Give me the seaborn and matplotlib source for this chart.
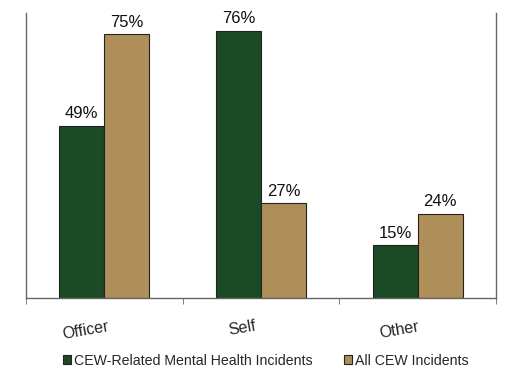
import pandas as pd
import matplotlib.pyplot as plt
import matplotlib.transforms as mtransforms
import seaborn as sns

# Data
categories = ['Officer', 'Self', 'Other']
mental_health = [49, 76, 15]
all_cew = [75, 27, 24]
series_names = ['CEW-Related Mental Health Incidents', 'All CEW Incidents']

df = pd.DataFrame({
    'Category': categories * 2,
    'Percent': mental_health + all_cew,
    'Series': [series_names[0]] * 3 + [series_names[1]] * 3,
})

sns.set_style('white')
plt.rcParams['font.family'] = ['Liberation Sans', 'DejaVu Sans']

fig = plt.figure(figsize=(5.24, 3.77), dpi=100)
ax = fig.add_axes([26 / 524, 1 - 298 / 377, 470 / 524, 285 / 377])

sns.barplot(data=df, x='Category', y='Percent', hue='Series', order=categories,
            hue_order=series_names, palette=['#1c4a24', '#ae8f5a'], saturation=1,
            width=0.575, edgecolor='#222222', linewidth=0.8, ax=ax)

for cont in ax.containers:
    ax.bar_label(cont, labels=[f'{v:.0f}%' for v in cont.datavalues],
                 padding=3, fontsize=12, color='#111111')

ax.set_xlim(-0.5, 2.5)
ax.set_ylim(0, 81)
ax.set_yticks([])
ax.set_xlabel('')
ax.set_ylabel('')

ax.spines['top'].set_visible(False)
for side in ['left', 'right', 'bottom']:
    ax.spines[side].set_color('#666666')
    ax.spines[side].set_linewidth(1.0)

ax.set_xticks([-0.5, 0.5, 1.5, 2.5], minor=True)
ax.tick_params(axis='x', which='minor', length=4, direction='out', color='#666666', bottom=True)
ax.tick_params(axis='x', which='major', length=0, pad=15, labelsize=11.5)
# labels sit a bit left of the bar groups in the original
shift = mtransforms.ScaledTranslation(-0.19, 0, fig.dpi_scale_trans)
for lbl in ax.get_xticklabels():
    lbl.set_rotation(10)
    lbl.set_transform(lbl.get_transform() + shift)

handles, labels = ax.get_legend_handles_labels()
ax.legend(handles, labels, loc='center', bbox_to_anchor=(0.51, -0.22), ncol=2,
          frameon=False, fontsize=10.2, handlelength=0.6, handleheight=0.6,
          handletextpad=0.2, columnspacing=2.2)

plt.savefig('out.png', dpi=100)
